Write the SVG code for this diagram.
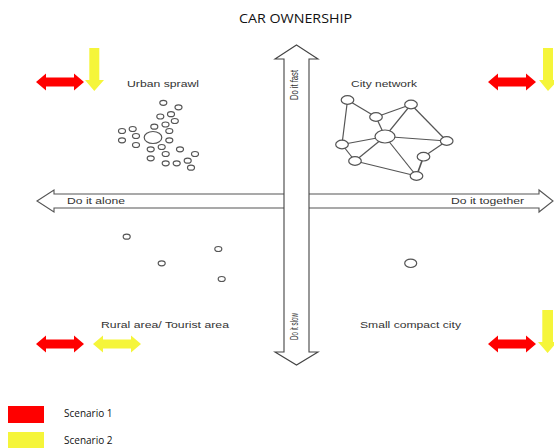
<svg xmlns="http://www.w3.org/2000/svg" xmlns:xlink="http://www.w3.org/1999/xlink" width="554" height="448" viewBox="0 0 554 448">
<style>
  .axis { fill: #ffffff; stroke: #555555; stroke-width: 1.1; }
  .lbl { font-family: "Liberation Sans", Arial, sans-serif; font-size: 9px; fill: #333333; }
  .vlbl { font-family: "Liberation Sans", Arial, sans-serif; font-size: 10.5px; fill: #333333; }
  .title { font-family: "Open Sans", "Liberation Sans", sans-serif; font-size: 13px; fill: #111111; }
  .leg { font-family: "Open Sans", "Liberation Sans", sans-serif; font-size: 10px; fill: #111111; }
  .dot { fill: #ffffff; stroke: #555555; stroke-width: 1.2; }
  .edge { stroke: #555555; stroke-width: 1.2; fill: none; }
  .red { fill: #ff0000; }
  .yel { fill: #f5f53a; }
</style>
<defs>
  <path id="dbl" d="M0,0 L10,-8.5 L10,-4.5 L38,-4.5 L38,-8.5 L48,0 L38,8.5 L38,4.5 L10,4.5 L10,8.5 Z"/>
</defs>
<rect width="554" height="448" fill="#ffffff"/>

<text class="title" x="239" y="23" textLength="113" lengthAdjust="spacingAndGlyphs">CAR OWNERSHIP</text>

<g id="connectors">
  <g id="axis-horizontal">
    <polygon class="axis" points="37,201 54,190 54,194 539,194 539,190 553,201 539,212 539,208 54,208 54,212"/>
    <text class="lbl" x="67" y="204" textLength="58" lengthAdjust="spacingAndGlyphs">Do it alone</text>
    <text class="lbl" x="451" y="204" textLength="73" lengthAdjust="spacingAndGlyphs">Do it together</text>
  </g>
  <g id="axis-vertical">
    <polygon class="axis" points="296.5,45 318,59 309,59 309,352 318,352 296.5,365 275,352 284,352 284,59 275,59" style="stroke:#444444"/>
    <text class="vlbl" transform="translate(298,100) rotate(-90)" textLength="30" lengthAdjust="spacingAndGlyphs">Do it fast</text>
    <text class="vlbl" transform="translate(298,340) rotate(-90)" textLength="27" lengthAdjust="spacingAndGlyphs">Do it slow</text>
  </g>
  <g id="network-edges">
    <line class="edge" x1="347.5" y1="100" x2="342" y2="144.5"/>
    <line class="edge" x1="347.5" y1="100" x2="376" y2="117"/>
    <line class="edge" x1="376" y1="117" x2="411" y2="104.5"/>
    <line class="edge" x1="376" y1="117" x2="385" y2="136.5"/>
    <line class="edge" x1="411" y1="104.5" x2="385" y2="136.5"/>
    <line class="edge" x1="411" y1="104.5" x2="446.7" y2="141"/>
    <line class="edge" x1="385" y1="136.5" x2="446.7" y2="141"/>
    <line class="edge" x1="385" y1="136.5" x2="342" y2="144.5"/>
    <line class="edge" x1="385" y1="136.5" x2="355" y2="161"/>
    <line class="edge" x1="385" y1="136.5" x2="416.5" y2="176"/>
    <line class="edge" x1="342" y1="144.5" x2="355" y2="161"/>
    <line class="edge" x1="355" y1="161" x2="416.5" y2="176"/>
    <line class="edge" x1="446.7" y1="141" x2="423.5" y2="156.7"/>
    <line class="edge" x1="423.5" y1="156.7" x2="416.5" y2="176" style="stroke-width:1.6"/>
  </g>
</g>

<g id="urban-sprawl">
  <text class="lbl" x="127" y="87" textLength="72" lengthAdjust="spacingAndGlyphs">Urban sprawl</text>
  <ellipse class="dot" cx="163.3" cy="102.8" rx="3.5" ry="2.5"/>
  <ellipse class="dot" cx="178.5" cy="107.3" rx="3.5" ry="2.5"/>
  <ellipse class="dot" cx="160.3" cy="116.5" rx="3.5" ry="2.5"/>
  <ellipse class="dot" cx="171" cy="114.2" rx="3.5" ry="2.5"/>
  <ellipse class="dot" cx="174.8" cy="121" rx="3.5" ry="2.5"/>
  <ellipse class="dot" cx="154.3" cy="126.7" rx="3.5" ry="2.5"/>
  <ellipse class="dot" cx="165.5" cy="124.5" rx="3.5" ry="2.5"/>
  <ellipse class="dot" cx="122" cy="131" rx="3.5" ry="2.5"/>
  <ellipse class="dot" cx="132.7" cy="129" rx="3.5" ry="2.5"/>
  <ellipse class="dot" cx="169.3" cy="131" rx="3.5" ry="2.5"/>
  <ellipse class="dot" cx="136" cy="136" rx="3.5" ry="2.5"/>
  <ellipse class="dot" cx="153" cy="137.5" rx="8.8" ry="6"/>
  <ellipse class="dot" cx="122" cy="140.3" rx="3.5" ry="2.5"/>
  <ellipse class="dot" cx="169.3" cy="140.3" rx="3.5" ry="2.5"/>
  <ellipse class="dot" cx="136" cy="145" rx="3.5" ry="2.5"/>
  <ellipse class="dot" cx="150.7" cy="149.3" rx="3.5" ry="2.5"/>
  <ellipse class="dot" cx="161.7" cy="147" rx="3.5" ry="2.5"/>
  <ellipse class="dot" cx="180" cy="149.3" rx="3.5" ry="2.5"/>
  <ellipse class="dot" cx="165.7" cy="154" rx="3.5" ry="2.5"/>
  <ellipse class="dot" cx="195" cy="154" rx="3.5" ry="2.5"/>
  <ellipse class="dot" cx="150.7" cy="158.3" rx="3.5" ry="2.5"/>
  <ellipse class="dot" cx="165.7" cy="163.3" rx="3.5" ry="2.5"/>
  <ellipse class="dot" cx="176.7" cy="163.3" rx="3.5" ry="2.5"/>
  <ellipse class="dot" cx="187.7" cy="160.7" rx="3.5" ry="2.5"/>
  <ellipse class="dot" cx="191" cy="167.7" rx="3.5" ry="2.5"/>
</g>

<g id="city-network">
  <text class="lbl" x="351" y="87" textLength="66" lengthAdjust="spacingAndGlyphs">City network</text>
  <ellipse id="net-a" class="dot" cx="347.5" cy="100" rx="6.3" ry="4.3"/>
  <ellipse id="net-b" class="dot" cx="411" cy="104.5" rx="6.3" ry="4.3"/>
  <ellipse id="net-c" class="dot" cx="376" cy="117" rx="6.3" ry="4.3"/>
  <ellipse id="net-d" class="dot" cx="385" cy="136.5" rx="10" ry="6.5"/>
  <ellipse id="net-e" class="dot" cx="446.7" cy="141" rx="6.3" ry="4.3"/>
  <ellipse id="net-f" class="dot" cx="342" cy="144.5" rx="6.3" ry="4.3"/>
  <ellipse id="net-g" class="dot" cx="423.5" cy="156.7" rx="6.3" ry="4.3"/>
  <ellipse id="net-h" class="dot" cx="355" cy="161" rx="6.3" ry="4.3"/>
  <ellipse id="net-i" class="dot" cx="416.5" cy="176" rx="6.3" ry="4.3"/>
</g>

<g id="rural-area">
  <text class="lbl" x="101" y="327.5" textLength="128" lengthAdjust="spacingAndGlyphs">Rural area/ Tourist area</text>
  <ellipse class="dot" cx="126.7" cy="236.7" rx="3.5" ry="2.5"/>
  <ellipse class="dot" cx="218.3" cy="249" rx="3.5" ry="2.5"/>
  <ellipse class="dot" cx="161.7" cy="263.3" rx="3.5" ry="2.5"/>
  <ellipse class="dot" cx="221.7" cy="279" rx="3.5" ry="2.5"/>
</g>

<g id="small-compact-city">
  <text class="lbl" x="360" y="327.5" textLength="101" lengthAdjust="spacingAndGlyphs">Small compact city</text>
  <ellipse class="dot" cx="410.7" cy="263.3" rx="6" ry="4.2"/>
</g>

<g id="scenario-arrows">
  <use xlink:href="#dbl" href="#dbl" class="red" transform="translate(36,82)"/>
  <path class="yel" d="M89.3,48 L99.3,48 L99.3,80 L104,80 L94.3,91 L85,80 L89.3,80 Z"/>
  <use xlink:href="#dbl" href="#dbl" class="red" transform="translate(488,82)"/>
  <path class="yel" d="M543,48 L553,48 L553,80 L558,80 L548,91 L539,80 L543,80 Z"/>
  <use xlink:href="#dbl" href="#dbl" class="red" transform="translate(36,344)"/>
  <use xlink:href="#dbl" href="#dbl" class="yel" transform="translate(93,344)"/>
  <use xlink:href="#dbl" href="#dbl" class="red" transform="translate(488,344)"/>
  <path class="yel" d="M542.3,310 L553,310 L553,342 L557,342 L547.6,353 L538,342 L542.3,342 Z"/>
</g>

<g id="legend">
  <rect class="red" x="8" y="406" width="36" height="17"/>
  <text class="leg" x="64" y="417">Scenario 1</text>
  <rect class="yel" x="8" y="432" width="36" height="16"/>
  <text class="leg" x="64" y="444">Scenario 2</text>
</g>
</svg>
